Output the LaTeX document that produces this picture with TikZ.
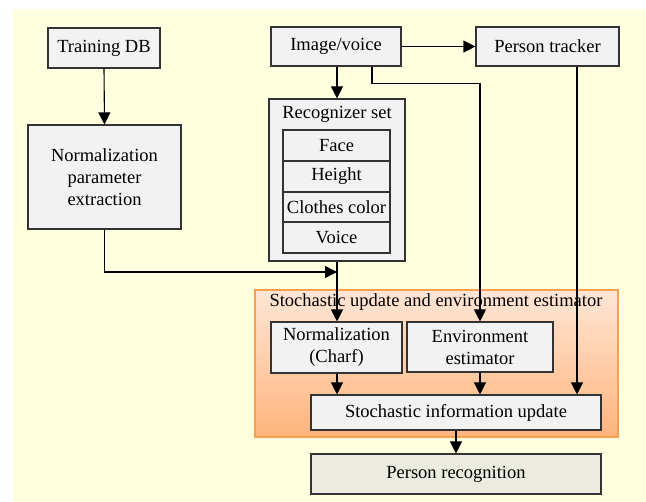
\documentclass[tikz,border=0pt]{standalone}
\usepackage{fontspec}
\setmainfont{Liberation Serif}
\usetikzlibrary{arrows.meta,calc}
\definecolor{bgyellow}{HTML}{FFFFE0}
\definecolor{boxfill}{HTML}{F2F2F2}
\definecolor{boxline}{HTML}{333333}
\definecolor{recfill}{HTML}{ECEBE0}
\definecolor{orTop}{HTML}{FFE6D6}
\definecolor{orBot}{HTML}{FFB47C}
\definecolor{orLine}{HTML}{F7A04E}
\tikzset{
  box/.style={draw=boxline, fill=boxfill, line width=1.1pt, inner sep=1pt,
    align=center, font=\fontsize{18.5}{22}\selectfont, anchor=center},
  recbox/.style={box, fill=recfill},
  groupbox/.style={draw=orLine, line width=1.3pt, top color=orTop, bottom color=orBot,
    inner sep=0pt, anchor=center},
  lbl/.style={font=\fontsize{18.5}{22}\selectfont, inner sep=0pt, anchor=center},
  arr/.style={line width=1.1pt, -{Triangle[length=12pt,width=12pt]}},
  ln/.style={line width=1.1pt}
}
\begin{document}
\begin{tikzpicture}[x=1pt,y=-1pt]
\useasboundingbox (0,0) rectangle (646,502);
\fill[bgyellow] (13,9) rectangle (646,502);

% orange group
\node[groupbox, minimum width=363pt, minimum height=147pt] (grp) at (436.5,363.5) {};
\node[lbl] (grplbl) at (436,302) {Stochastic update and environment estimator};

% top row
\node[box, minimum width=112pt, minimum height=40pt] (tdb) at (104,48) {Training DB};
\node[box, minimum width=153pt, minimum height=104pt] (npe) at (104.5,177) {Normalization\\parameter\\extraction};
\node[box, minimum width=130pt, minimum height=39pt] (iv) at (336,46.5) {Image/voice};
\node[box, minimum width=143pt, minimum height=39pt] (pt) at (547.5,46.5) {Person tracker};

% recognizer set
\node[box, minimum width=136pt, minimum height=162pt] (rs) at (337,180) {};
\node[lbl] (rslbl) at (337,114) {Recognizer set};
\node[box, minimum width=107pt, minimum height=31pt] (face) at (336.5,145.5) {Face};
\node[box, minimum width=107pt, minimum height=31pt] (hgt) at (336.5,176.5) {Height};
\node[box, minimum width=107pt, minimum height=30pt] (clo) at (336.5,207) {Clothes color};
\node[box, minimum width=107pt, minimum height=31pt] (voi) at (336.5,237.5) {Voice};

% inner group boxes
\node[box, minimum width=131pt, minimum height=51pt] (charf) at (336.5,347.5) {Normalization\\(Charf)};
\node[box, minimum width=146pt, minimum height=50pt] (env) at (480,347) {Environment\\estimator};
\node[box, minimum width=290pt, minimum height=35pt] (siu) at (456,412.5) {Stochastic information update};
\node[recbox, minimum width=290pt, minimum height=40pt] (pr) at (456,474) {Person recognition};

% connectors
\draw[arr] (tdb.south) -- (npe.north);
\draw[arr] (iv.east) -- (pt.west);
\draw[arr] (iv.south -| rs.north) -- (rs.north);
\draw[arr] ([xshift=36pt]iv.south) -- ++(0,17) -| (env.north);
\draw[arr] ([xshift=29.5pt]pt.south) -- ([xshift=29.5pt]pt.south |- siu.north);
\coordinate (join) at (rs.south |- 0,272);
\draw[arr] (npe.south) |- (join);
\draw[arr] (rs.south) -- (rs.south |- charf.north);
\draw[arr] (charf.south -| rs.south) -- (rs.south |- siu.north);
\draw[arr] (env.south) -- (env.south |- siu.north);
\draw[arr] (siu.south) -- (pr.north);
\end{tikzpicture}
\end{document}
